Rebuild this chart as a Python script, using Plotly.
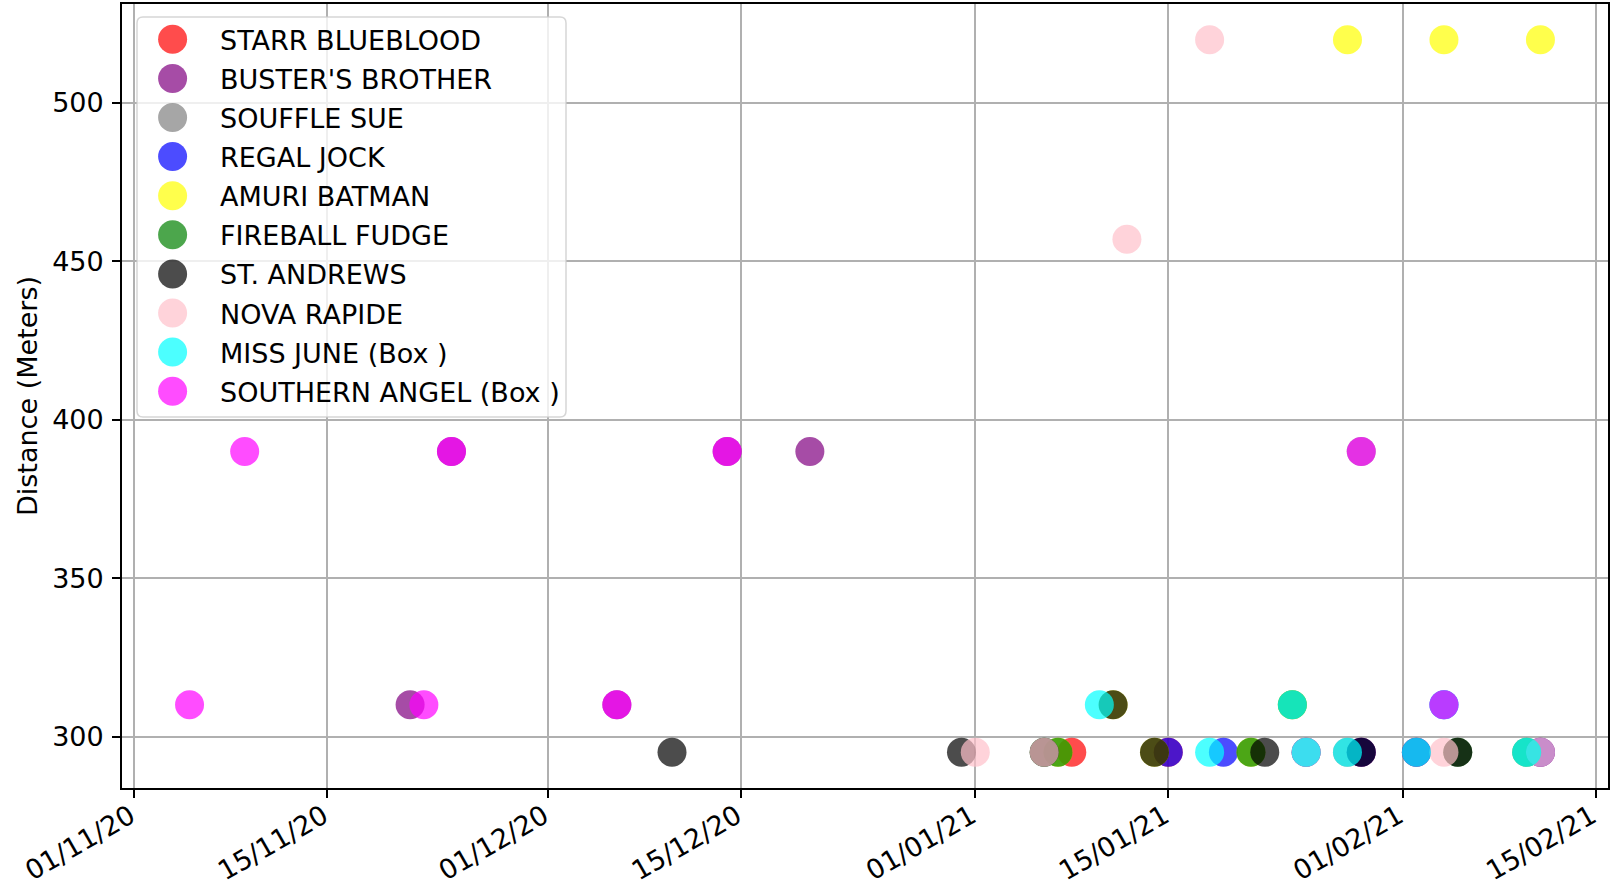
import plotly.graph_objects as go

# ---- data ----
dog_names = ["STARR BLUEBLOOD", "BUSTER'S BROTHER", "SOUFFLE SUE", "REGAL JOCK",
             "AMURI BATMAN", "FIREBALL FUDGE", "ST. ANDREWS", "NOVA RAPIDE",
             "MISS JUNE (Box )", "SOUTHERN ANGEL (Box )"]
dog_colors = ["red", "purple", "gray", "blue", "yellow", "green", "black",
              "pink", "cyan", "magenta"]

starr_dates = ["2021-01-08", "2021-01-15", "2021-01-25", "2021-01-29", "2021-02-02", "2021-02-11"]
starr_dist = [295, 295, 295, 295, 295, 295]

buster_dates = ["2020-11-21", "2020-11-24", "2020-12-06", "2020-12-14", "2020-12-20"]
buster_dist = [310, 390, 310, 390, 390]

souffle_dates = ["2021-01-28", "2021-01-29"]
souffle_dist = [295, 390]

regal_dates = ["2021-01-15", "2021-01-19", "2021-01-25", "2021-01-29", "2021-02-02", "2021-02-04", "2021-02-11"]
regal_dist = [295, 295, 295, 295, 295, 310, 295]

amuri_dates = ["2021-01-07", "2021-01-11", "2021-01-14", "2021-01-21", "2021-01-24", "2021-01-28", "2021-02-04", "2021-02-11"]
amuri_dist = [295, 310, 295, 295, 310, 520, 520, 520]

fireball_dates = ["2021-01-06", "2021-01-07", "2021-01-21", "2021-01-24", "2021-02-05", "2021-02-10"]
fireball_dist = [295, 295, 295, 310, 295, 295]

andrews_dates = ["2020-12-10", "2020-12-31", "2021-01-06", "2021-01-11", "2021-01-14", "2021-01-22", "2021-01-29", "2021-02-05"]
andrews_dist = [295, 295, 295, 310, 295, 295, 295, 295]

nova_dates = ["2021-01-01", "2021-01-06", "2021-01-12", "2021-01-18", "2021-01-25", "2021-02-04", "2021-02-11"]
nova_dist = [295, 295, 457, 520, 295, 295, 295]

june_dates = ["2021-01-10", "2021-01-18", "2021-01-24", "2021-01-25", "2021-01-28", "2021-02-02", "2021-02-04", "2021-02-10"]
june_dist = [310, 295, 310, 295, 295, 295, 310, 295]

angel_dates = ["2020-11-05", "2020-11-09", "2020-11-22", "2020-11-24", "2020-12-06", "2020-12-14", "2021-01-29", "2021-02-04"]
angel_dist = [310, 390, 310, 390, 310, 390, 390, 310]

x_tick_vals = ["2020-11-01", "2020-11-15", "2020-12-01", "2020-12-15",
               "2021-01-01", "2021-01-15", "2021-02-01", "2021-02-15"]
x_tick_text = ["01/11/20", "15/11/20", "01/12/20", "15/12/20",
               "01/01/21", "15/01/21", "01/02/21", "15/02/21"]
y_tick_vals = [300, 350, 400, 450, 500]

series = [
    (starr_dates, starr_dist), (buster_dates, buster_dist),
    (souffle_dates, souffle_dist), (regal_dates, regal_dist),
    (amuri_dates, amuri_dist), (fireball_dates, fireball_dist),
    (andrews_dates, andrews_dist), (nova_dates, nova_dist),
    (june_dates, june_dist), (angel_dates, angel_dist),
]

FONT = "DejaVu Sans"
FS = 27
MARKER = 29
ALPHA = 0.7

fig = go.Figure()
for name, color, (xs, ys) in zip(dog_names, dog_colors, series):
    fig.add_trace(go.Scatter(
        x=xs, y=ys, mode="markers", name=name, showlegend=False,
        marker=dict(color=color, size=MARKER, opacity=ALPHA, line=dict(width=0)),
    ))

# ---- page geometry (pixels) ----
W, H = 1610, 891
L, R, T, B = 122, 2, 4, 103
PW, PH = W - L - R, H - T - B


def px(x):
    return (x - L) / PW


def py(y):
    return (H - B - y) / PH


# ---- legend (drawn like matplotlib's, with full-size markers) ----
leg_left, leg_top, leg_right, leg_bottom = 137, 17, 566, 417
row0, row_gap = 39.3, 39.1
sym_x, text_x = 172.6, 218
rad = 6
shapes = []
path = (
    f"M {px(leg_left + rad)},{py(leg_top)} L {px(leg_right - rad)},{py(leg_top)} "
    f"Q {px(leg_right)},{py(leg_top)} {px(leg_right)},{py(leg_top + rad)} "
    f"L {px(leg_right)},{py(leg_bottom - rad)} "
    f"Q {px(leg_right)},{py(leg_bottom)} {px(leg_right - rad)},{py(leg_bottom)} "
    f"L {px(leg_left + rad)},{py(leg_bottom)} "
    f"Q {px(leg_left)},{py(leg_bottom)} {px(leg_left)},{py(leg_bottom - rad)} "
    f"L {px(leg_left)},{py(leg_top + rad)} "
    f"Q {px(leg_left)},{py(leg_top)} {px(leg_left + rad)},{py(leg_top)} Z"
)
shapes.append(dict(type="path", path=path, xref="paper", yref="paper",
                   fillcolor="rgba(255,255,255,0.8)",
                   line=dict(color="rgba(204,204,204,0.8)", width=1.5),
                   layer="above"))
annotations = []
r = MARKER / 2
for i, (name, color) in enumerate(zip(dog_names, dog_colors)):
    cy = row0 + i * row_gap
    shapes.append(dict(type="circle", xref="paper", yref="paper",
                       x0=px(sym_x - r), x1=px(sym_x + r),
                       y0=py(cy + r), y1=py(cy - r),
                       fillcolor=color, opacity=ALPHA, line=dict(width=0),
                       layer="above"))
    annotations.append(dict(text=name, xref="paper", yref="paper",
                            x=px(text_x), y=py(cy + 1), xanchor="left", yanchor="middle",
                            showarrow=False,
                            font=dict(family=FONT, size=FS, color="black")))

fig.update_layout(
    width=W, height=H,
    margin=dict(l=L, r=R, t=T, b=B, pad=0),
    paper_bgcolor="white", plot_bgcolor="white",
    font=dict(family=FONT, size=FS, color="black"),
    showlegend=False,
    shapes=shapes,
    annotations=annotations,
    xaxis=dict(
        type="date", automargin=False,
        range=["2020-10-31 02:24", "2021-02-15 21:36"],
        tickmode="array", tickvals=x_tick_vals, ticktext=x_tick_text,
        tickangle=-30, ticklabelstandoff=-8, ticklabelshift=-4,
        showgrid=True, gridcolor="#b0b0b0", gridwidth=1.8,
        showline=True, linecolor="black", linewidth=1.8, mirror=True,
        ticks="outside", ticklen=8, tickwidth=1.8, tickcolor="black",
        tickfont=dict(family=FONT, size=FS, color="black"),
        zeroline=False,
    ),
    yaxis=dict(
        automargin=False,
        range=[283.75, 531.25],
        tickmode="array", tickvals=y_tick_vals,
        ticklabelstandoff=3,
        showgrid=True, gridcolor="#b0b0b0", gridwidth=1.8,
        showline=True, linecolor="black", linewidth=1.8, mirror=True,
        ticks="outside", ticklen=8, tickwidth=1.8, tickcolor="black",
        tickfont=dict(family=FONT, size=FS, color="black"),
        title=dict(text="Distance (Meters)", font=dict(family=FONT, size=FS, color="black"), standoff=7),
        zeroline=False,
    ),
)

fig.write_html("out.html", config={"displayModeBar": False},
               post_script="document.body.style.margin='0';")
